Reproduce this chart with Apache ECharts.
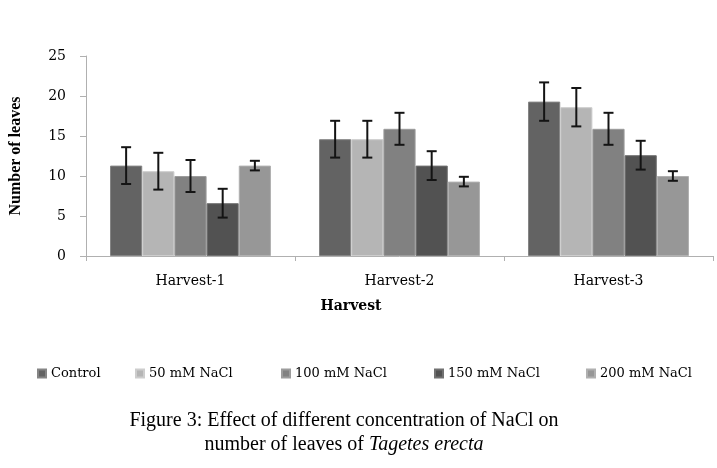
<!DOCTYPE html>
<html>
    <head>
        <meta charset="utf-8">
        <title>Number of leaves</title>
        <script src="https://cdn.jsdelivr.net/npm/echarts@6/dist/echarts.min.js"></script>
        <style>
            html, body { margin: 0; padding: 0; background: #fff; }
            #chart1 { width: 717px; height: 468px; }
        </style>
    </head>
    <body>
        <div id="chart1"></div>
        <script type="text/javascript">
            // categories and series
            var harvests = ['Harvest-1', 'Harvest-2', 'Harvest-3'];
            var seriesNames = ['Control', '50 mM NaCl', '100 mM NaCl', '150 mM NaCl', '200 mM NaCl'];
            var control = [11.3, 14.6, 19.3];
            var nacl50 = [10.6, 14.6, 18.6];
            var nacl100 = [10.0, 15.9, 15.9];
            var nacl150 = [6.6, 11.3, 12.6];
            var nacl200 = [11.3, 9.3, 10.0];
            // error (+/-)
            var controlErr = [2.3, 2.3, 2.4];
            var nacl50Err = [2.3, 2.3, 2.4];
            var nacl100Err = [2.0, 2.0, 2.0];
            var nacl150Err = [1.8, 1.8, 1.8];
            var nacl200Err = [0.6, 0.6, 0.6];
            var yTicks = [0, 5, 10, 15, 20, 25];

            var values = [control, nacl50, nacl100, nacl150, nacl200];
            var errors = [controlErr, nacl50Err, nacl100Err, nacl150Err, nacl200Err];
            var colors = ['#636363', '#b5b5b5', '#818181', '#525252', '#979797'];
            var borders = ['#858585', '#cdcdcd', '#9c9c9c', '#717171', '#b0b0b0'];
            var legendLeft = [32, 130, 276, 429, 581];
            var catGap = 0.23;

            var myChart1 = echarts.init(document.getElementById('chart1'));

            var series = [];
            var legends = [];
            for (var s = 0; s < seriesNames.length; s++) {
                series.push({
                    name: seriesNames[s],
                    type: 'bar',
                    data: values[s],
                    barGap: '0%',
                    barCategoryGap: (catGap * 100) + '%',
                    itemStyle: { color: colors[s], borderColor: borders[s], borderWidth: 1 }
                });
                legends.push({
                    data: [seriesNames[s]],
                    left: legendLeft[s],
                    top: 362,
                    icon: 'rect',
                    itemWidth: 8,
                    itemHeight: 8,
                    itemGap: 0,
                    textStyle: { fontFamily: 'DejaVu Serif', fontSize: 13, color: '#000' }
                });
            }

            // error bar data: [category, value, err, seriesIndex]
            var errData = [];
            for (var s2 = 0; s2 < seriesNames.length; s2++) {
                for (var c = 0; c < harvests.length; c++) {
                    errData.push([c, values[s2][c], errors[s2][c], s2]);
                }
            }

            series.push({
                type: 'custom',
                name: 'err',
                z: 10,
                encode: { x: 0, y: 1 },
                data: errData,
                renderItem: function (params, api) {
                    var cat = api.value(0);
                    var v = api.value(1);
                    var e = api.value(2);
                    var s = api.value(3);
                    var band = api.size([1, 0])[0];
                    var groupW = band * (1 - catGap);
                    var barW = groupW / seriesNames.length;
                    var cx = api.coord([cat, v])[0] - groupW / 2 + barW * (s + 0.5);
                    var yTop = api.coord([cat, v + e])[1];
                    var yBot = api.coord([cat, v - e])[1];
                    var cap = 5;
                    var st = { stroke: '#141414', lineWidth: 2 };
                    return {
                        type: 'group',
                        children: [
                            { type: 'line', shape: { x1: cx, y1: yTop, x2: cx, y2: yBot }, style: st },
                            { type: 'line', shape: { x1: cx - cap, y1: yTop, x2: cx + cap, y2: yTop }, style: st },
                            { type: 'line', shape: { x1: cx - cap, y1: yBot, x2: cx + cap, y2: yBot }, style: st }
                        ]
                    };
                }
            });

            myChart1.setOption({
                animation: false,
                legend: legends,
                grid: { left: 84, right: 4, top: 56, bottom: 212 },
                xAxis: {
                    type: 'category',
                    data: harvests,
                    name: 'Harvest',
                    nameLocation: 'middle',
                    nameGap: 43,
                    nameTextStyle: {
                        fontFamily: 'DejaVu Serif', fontSize: 14, fontWeight: 'bold', color: '#000',
                        padding: [0, 97, 0, 0]
                    },
                    axisLine: { lineStyle: { color: '#b0b0b0', width: 1 } },
                    axisTick: { show: true, length: 5, lineStyle: { color: '#b0b0b0' } },
                    axisLabel: { margin: 18, fontFamily: 'DejaVu Serif', fontSize: 14, color: '#000' }
                },
                yAxis: {
                    type: 'value',
                    min: yTicks[0],
                    max: yTicks[yTicks.length - 1],
                    interval: yTicks[1] - yTicks[0],
                    name: 'Number of leaves',
                    nameLocation: 'middle',
                    nameGap: 62,
                    nameTextStyle: { fontFamily: 'Liberation Serif', fontSize: 16, fontWeight: 'bold', color: '#000' },
                    splitLine: { show: false },
                    axisLine: { show: true, lineStyle: { color: '#b0b0b0', width: 1 } },
                    axisTick: { show: true, length: 6, lineStyle: { color: '#b0b0b0' } },
                    axisLabel: { margin: 20, fontFamily: 'DejaVu Serif', fontSize: 14, color: '#000' }
                },
                graphic: [{
                    type: 'text',
                    x: 344,
                    y: 409,
                    style: {
                        text: '{n|Figure 3: Effect of different concentration of NaCl on}\n{n|number of leaves of }{i|Tagetes erecta}',
                        textAlign: 'center',
                        fill: '#000',
                        rich: {
                            n: { fontFamily: 'Liberation Serif', fontSize: 20, lineHeight: 24, color: '#000' },
                            i: { fontFamily: 'Liberation Serif', fontSize: 20, lineHeight: 24, fontStyle: 'italic', color: '#000' }
                        }
                    }
                }],
                series: series
            });
        </script>
    </body>
</html>
